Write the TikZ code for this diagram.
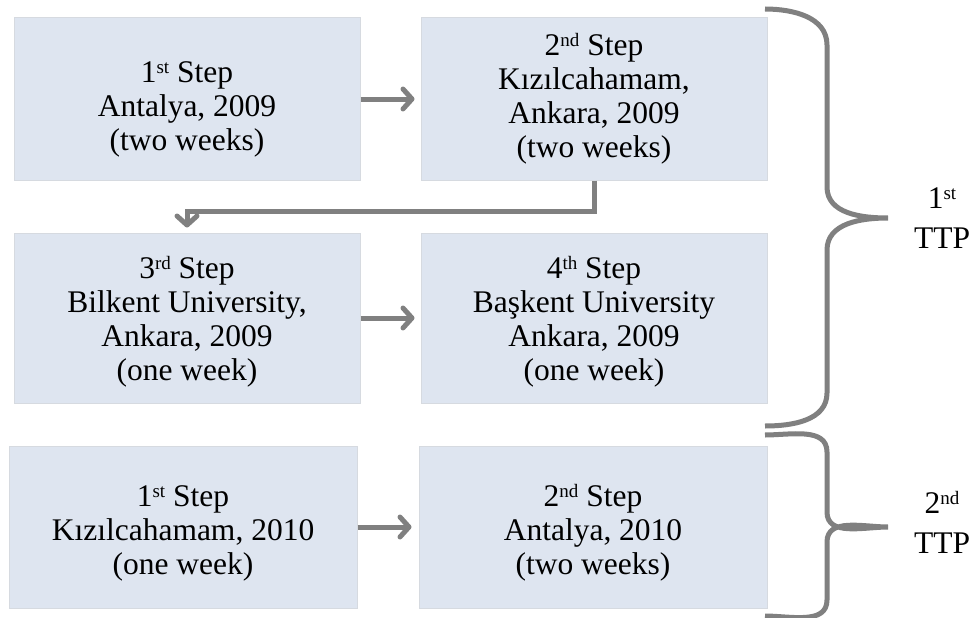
\documentclass[tikz,border=0pt]{standalone}
\usepackage{fontspec}
\setmainfont{Liberation Serif}
\usetikzlibrary{arrows.meta}
\definecolor{boxfill}{RGB}{222,229,240}
\definecolor{boxline}{RGB}{214,218,224}
\definecolor{linkgray}{RGB}{128,128,128}
% small raised ordinal suffix (st, nd, rd, th)
\newcommand{\ordsup}[1]{\raisebox{0.62ex}{\fontsize{19}{19}\selectfont #1}}
% invisible strut that pushes a text block a little lower in its box
\newcommand{\dropstrut}[1]{\rule{0pt}{#1}}

\begin{document}
\begin{tikzpicture}[x=1pt,y=-1pt,
  stepbox/.style={draw=boxline, line width=1pt, fill=boxfill,
    minimum width=346pt, minimum height=162pt, inner sep=0pt,
    align=center, font=\fontsize{31.5}{34}\selectfont},
  flow/.style={draw=linkgray, line width=5pt,
    -{Straight Barb[length=9pt 0 0, width=20pt 0 0, line cap=round, line join=round]}},
  brace/.style={draw=linkgray, line width=5pt},
  ttp/.style={align=center, inner sep=0pt, font=\fontsize{31.5}{40}\selectfont}]

\useasboundingbox (0,0) rectangle (972,618);

% first training programme
\node[stepbox] (s1) at (187,99) {\dropstrut{42pt}1\ordsup{st} Step\\Antalya, 2009\\(two weeks)};
\node[stepbox] (s2) at (594,99) {2\ordsup{nd} Step\\Kızılcahamam,\\Ankara, 2009\\(two weeks)};
\node[stepbox, minimum height=170pt] (s3) at (187,318) {\dropstrut{29pt}3\ordsup{rd} Step\\Bilkent University,\\Ankara, 2009\\(one week)};
\node[stepbox, minimum height=170pt] (s4) at (594,318) {\dropstrut{29pt}4\ordsup{th} Step\\Başkent University\\Ankara, 2009\\(one week)};

% second training programme
\node[stepbox, minimum width=348pt] (t1) at (183,527) {\dropstrut{34pt}1\ordsup{st} Step\\Kızılcahamam, 2010\\(one week)};
\node[stepbox, minimum width=348pt] (t2) at (593,527) {\dropstrut{34pt}2\ordsup{nd} Step\\Antalya, 2010\\(two weeks)};

% step order
\draw[flow, shorten >=6pt] (s1.east) -- (s2.west);
\draw[flow, shorten >=5pt] (s2.south) -- ++(0,31) -| (s3.north);
\draw[flow, shorten >=6pt] (s3.east) -- (s4.west);
\draw[flow, shorten >=7pt] (t1.east) -- (t2.west);

% braces grouping the steps
\draw[brace] (765,9) to[out=0,in=90] (827,45) -- (827,187)
  to[out=-90,in=180] (888,218) to[out=180,in=90] (827,250)
  -- (827,393) to[out=-90,in=0] (765,426);
\draw[brace] (765,435) to[out=0,in=90] (827,452) -- (827,512)
  to[out=-90,in=180] (888,527) to[out=180,in=90] (827,542)
  -- (827,600) to[out=-90,in=0] (765,616);

\node[ttp] (p1) at (942,218) {1\ordsup{st}\\TTP};
\node[ttp] (p2) at (942,522) {2\ordsup{nd}\\TTP};
\end{tikzpicture}
\end{document}
